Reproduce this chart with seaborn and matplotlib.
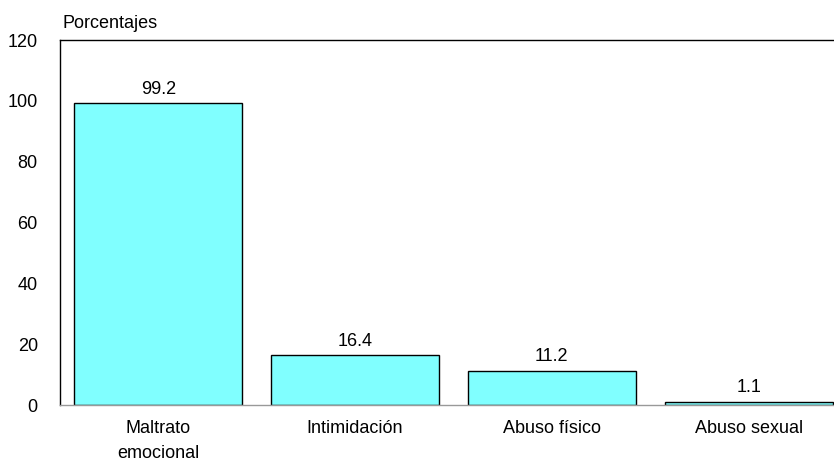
import matplotlib
matplotlib.use("Agg")
import matplotlib.pyplot as plt
import seaborn as sns
import pandas as pd

categories = ["Maltrato\nemocional", "Intimidación", "Abuso físico", "Abuso sexual"]
values = [99.2, 16.4, 11.2, 1.1]
labels = ["99.2", "16.4", "11.2", "1.1"]

sns.set_style("white")
plt.rcParams['font.family'] = ['Liberation Sans', 'DejaVu Sans']
plt.rcParams['text.color'] = 'black'

df = pd.DataFrame({"cat": categories, "val": values})

fig = plt.figure(figsize=(8.34, 4.62), dpi=100)
ax = fig.add_axes([60/834, 57/462, 787/834, 365/462])
sns.barplot(data=df, x="cat", y="val", color="#80FFFF", saturation=1,
            edgecolor="black", linewidth=1.0, width=0.855, ax=ax)
ax.set_xlim(-0.5, 3.5)
ax.set_ylim(0, 120)
ax.set_yticks([0, 20, 40, 60, 80, 100, 120])
ax.set_xlabel("")
ax.set_ylabel("")
ax.tick_params(axis="both", length=0, labelsize=13, colors="black")
ax.tick_params(axis="y", pad=16)
ax.tick_params(axis="x", pad=11)
for t in ax.get_xticklabels():
    t.set_linespacing(1.6)
for s in ["left", "top", "right"]:
    ax.spines[s].set_color("black")
    ax.spines[s].set_linewidth(1.0)
ax.spines["bottom"].set_color("#999999")
ax.spines["bottom"].set_linewidth(1.0)
ax.bar_label(ax.containers[0], labels=labels, padding=4, fontsize=13, color="black")
fig.text(62/834, 1 - 24/462, "Porcentajes", fontsize=13, va="center", ha="left", color="black")
fig.savefig("out.png", dpi=100)
